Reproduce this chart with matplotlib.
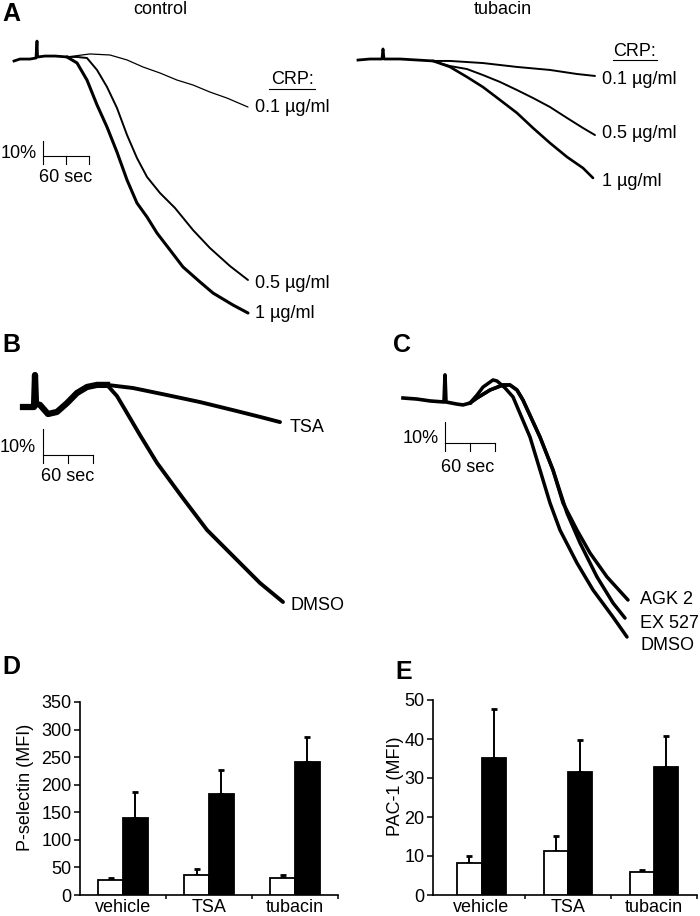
import numpy as np
import matplotlib.pyplot as plt
from matplotlib.lines import Line2D

plt.rcParams['font.family'] = ['Liberation Sans', 'DejaVu Sans']

W, H = 700, 916

#---------------- panel A, control: time (s) vs aggregation (%) ----------------
ctrl_base_t = [0, 7.8, 20.9, 28.7, 30.0, 30.7, 31.3, 40.4, 53.5, 69.1]
ctrl_base_y = [2.0, 0.7, 0.7, 0.0, -11.3, -0.7, -0.7, -1.3, -1.3, -0.7]
ctrl_1_t = [82.2, 95.2, 108.3, 121.3, 134.3, 147.4, 160.4, 173.5, 186.5, 203.5, 220.4, 242.6, 259.6, 285.7, 305.2]
ctrl_1_y = [3.3, 14.7, 31.3, 46.0, 62.7, 81.3, 96.7, 106.0, 116.7, 128.0, 139.3, 149.3, 156.7, 164.7, 170.0]
ctrl_05_t = [82.2, 95.2, 108.3, 121.3, 134.3, 147.4, 160.4, 173.5, 190.4, 210.0, 233.5, 255.6, 281.7, 305.2]
ctrl_05_y = [-0.7, 0.0, 8.0, 19.3, 33.3, 51.3, 66.7, 79.3, 90.0, 100.0, 114.7, 126.7, 138.7, 148.0]
ctrl_01_t = [99.1, 125.2, 147.4, 168.3, 190.4, 212.6, 233.5, 255.6, 277.8, 305.2]
ctrl_01_y = [-2.7, -2.0, 1.3, 6.0, 10.0, 14.7, 18.0, 22.7, 26.7, 32.7]

#---------------- panel A, tubacin ----------------
tuba_base_t = [0, 15.7, 31.3, 32.6, 33.9, 54.8, 97.8]
tuba_base_y = [0.7, 0.0, 0.0, -6.7, 0.0, 0.0, 1.3]
tuba_01_t = [120.0, 163.0, 207.4, 250.4, 285.6, 309.1]
tuba_01_y = [1.3, 2.7, 5.3, 7.3, 10.0, 11.3]
tuba_05_t = [120.0, 142.2, 163.0, 185.2, 207.4, 228.3, 250.4, 272.6, 293.5, 309.1]
tuba_05_y = [4.7, 6.7, 10.7, 15.3, 20.7, 26.0, 32.0, 39.3, 46.0, 50.7]
tuba_1_t = [120.0, 142.2, 163.0, 185.2, 207.4, 228.3, 250.4, 272.6, 293.5, 306.5]
tuba_1_y = [5.3, 12.0, 18.7, 27.3, 36.0, 46.0, 56.0, 65.3, 72.7, 79.3]

#---------------- panel B ----------------
b_base_t = [0, 8.4, 13.2, 14.4, 15.6, 20.4, 30.0, 40.8, 52.8, 64.8, 76.8, 88.8, 100.8]
b_base_y = [0, 0, 0, -12.3, -1.2, -0.8, 2.7, 1.9, -1.5, -5.4, -7.7, -8.5, -8.5]
b_tsa_t = [132.0, 172.8, 212.4, 252.0, 284.4, 308.4]
b_tsa_y = [-7.3, -4.6, -1.9, 1.2, 3.8, 5.8]
b_dmso_t = [112.8, 124.8, 140.4, 160.8, 190.8, 220.8, 260.4, 284.4, 312.0]
b_dmso_y = [-4.2, 2.3, 10.8, 21.5, 34.6, 47.3, 60.0, 67.7, 75.0]

#---------------- panel C ----------------
c_base_t = [0, 16.8, 32.4, 49.2, 50.4, 51.6, 64.8, 72.0, 80.4]
c_base_y = [0, 0.5, 1.4, 1.9, -11.0, 1.9, 2.9, 3.3, 2.4]
c_dmso_t = [88.8, 96.0, 108.0, 112.8, 122.4, 132.0, 152.4, 164.4, 176.4, 188.4, 208.8, 228.0, 252.0, 268.8]
c_dmso_y = [-1.4, -5.2, -8.6, -8.1, -4.8, -0.5, 18.6, 34.3, 50.0, 62.9, 78.6, 91.4, 104.3, 113.8]
c_agk_t = [88.8, 104.4, 120.0, 128.4, 136.8, 144.0, 164.4, 180.0, 192.0, 208.8, 224.4, 244.8, 270.0]
c_agk_y = [0.0, -3.8, -6.2, -6.2, -3.8, 1.0, 18.6, 34.3, 50.0, 62.9, 73.8, 85.2, 96.2]
c_ex_t = [88.8, 104.4, 120.0, 128.4, 136.8, 144.0, 164.4, 180.0, 196.8, 212.4, 232.8, 252.0, 266.4]
c_ex_y = [0.0, -3.8, -6.2, -6.2, -3.8, 1.0, 18.6, 34.3, 54.8, 69.0, 85.2, 97.6, 104.8]

#---------------- panels D and E (MFI) ----------------
groups = ["vehicle", "TSA", "tubacin"]
psel_rest = [27, 37, 30]
psel_rest_err = [4, 11, 6]
psel_crp = [140, 183, 241]
psel_crp_err = [47, 44, 46]
pac_rest = [8.1, 11.3, 6.0]
pac_rest_err = [1.9, 3.8, 0.3]
pac_crp = [35.2, 31.6, 32.7]
pac_crp_err = [12.5, 8.1, 8.1]


def fx(x):
    return x / W


def fy(y):
    return 1 - y / H


def label(fig, x, y, s, size=13, **kw):
    fig.text(fx(x), fy(y), s, fontsize=size, va='center', **kw)


#---------- axes placed in pixels, with a given px per second / per % ----------
def trace_axes(fig, box, origin, sx, sy):
    l, t, r, b = box
    ax = fig.add_axes([l / W, 1 - b / H, (r - l) / W, (b - t) / H])
    ax.set_xlim((l - origin[0]) / sx, (r - origin[0]) / sx)
    ax.set_ylim((b - origin[1]) / sy, (t - origin[1]) / sy)
    ax.axis('off')
    return ax


def trace(ax, base_t, base_y, t, y, lw):
    ax.plot([base_t[-1]] + t, [base_y[-1]] + y, color='k', lw=lw,
            solid_capstyle='round', solid_joinstyle='round')


def scale_bar(ax, t0, y0, tick):
    kw = dict(color='k', lw=0.8)
    ax.plot([t0, t0 + 60], [y0, y0], **kw)
    ax.plot([t0, t0], [y0 - 10, y0 + tick], **kw)
    for dt in (30, 60):
        ax.plot([t0 + dt, t0 + dt], [y0, y0 + tick], **kw)


def bar_panel(ax, rest, rest_err, crp, crp_err, ymax, step, xlim, w):
    x = np.arange(len(groups))
    ax.bar(x - w / 2, rest, w, color='white', edgecolor='k', lw=1.3, zorder=3)
    ax.bar(x + w / 2, crp, w, color='k', edgecolor='k', lw=1.3, zorder=3)
    for xs, v, e in ((x - w / 2, rest, rest_err), (x + w / 2, crp, crp_err)):
        ax.errorbar(xs, v, yerr=[np.zeros(len(v)), e], fmt='none', ecolor='k',
                    elinewidth=1.4, capsize=2, capthick=2, zorder=2)
    ax.set_xlim(*xlim)
    ax.set_ylim(0, ymax)
    ax.set_yticks(np.arange(0, ymax + 1, step))
    ax.set_xticks(x, groups)
    ax.set_xticks([0.5, 1.5, 2.5], minor=True)
    ax.tick_params(axis='y', length=4, width=1.1, labelsize=13, pad=2)
    ax.tick_params(axis='x', which='major', length=0, labelsize=13, pad=3)
    ax.tick_params(axis='x', which='minor', length=3, width=1.1)
    for s in ('top', 'right'):
        ax.spines[s].set_visible(False)
    for s in ('left', 'bottom'):
        ax.spines[s].set_linewidth(1.2)


def main():
    fig = plt.figure(figsize=(W / 100, H / 100), dpi=100)

    # ---- A control
    ax = trace_axes(fig, (0, 25, 345, 330), (14, 58), 46 / 60, 1.5)
    ax.plot(ctrl_base_t, ctrl_base_y, color='k', lw=2.0)
    trace(ax, ctrl_base_t, ctrl_base_y, ctrl_01_t, ctrl_01_y, 0.9)
    trace(ax, ctrl_base_t, ctrl_base_y, ctrl_05_t, ctrl_05_y, 1.4)
    trace(ax, ctrl_base_t, ctrl_base_y, ctrl_1_t, ctrl_1_y, 2.2)
    scale_bar(ax, 37.8, 65.3, 5.3)

    # ---- A tubacin
    ax = trace_axes(fig, (350, 25, 700, 330), (358, 59), 46 / 60, 1.5)
    ax.plot(tuba_base_t, tuba_base_y, color='k', lw=2.0)
    trace(ax, tuba_base_t, tuba_base_y, tuba_01_t, tuba_01_y, 1.4)
    trace(ax, tuba_base_t, tuba_base_y, tuba_05_t, tuba_05_y, 1.4)
    trace(ax, tuba_base_t, tuba_base_y, tuba_1_t, tuba_1_y, 1.9)

    # ---- B
    ax = trace_axes(fig, (0, 355, 345, 630), (23, 407), 50 / 60, 2.6)
    ax.plot(b_base_t, b_base_y, color='k', lw=4.5, solid_joinstyle='round')
    trace(ax, b_base_t, b_base_y, b_tsa_t, b_tsa_y, 2.8)
    trace(ax, b_base_t, b_base_y, b_dmso_t, b_dmso_y, 2.8)
    scale_bar(ax, 24.0, 18.5, 3.1)

    # ---- C
    ax = trace_axes(fig, (350, 355, 700, 660), (403, 398), 50 / 60, 2.1)
    ax.plot(c_base_t, c_base_y, color='k', lw=2.6, solid_joinstyle='round')
    trace(ax, c_base_t, c_base_y, c_dmso_t, c_dmso_y, 2.5)
    trace(ax, c_base_t, c_base_y, c_ex_t, c_ex_y, 2.5)
    trace(ax, c_base_t, c_base_y, c_agk_t, c_agk_y, 2.5)
    scale_bar(ax, 50.4, 21.4, 3.8)

    # ---- D and E
    ax = fig.add_axes([fx(80), fy(895), 258 / W, 193 / H])
    bar_panel(ax, psel_rest, psel_rest_err, psel_crp, psel_crp_err, 350, 50, (-0.5, 2.5), 0.29)
    ax = fig.add_axes([fx(433), fy(895), 264 / W, 195 / H])
    bar_panel(ax, pac_rest, pac_rest_err, pac_crp, pac_crp_err, 50, 10, (-0.563, 2.483), 0.28)

    # ---- texts
    for x, y, s in ((2, 14, "A"), (2, 345, "B"), (393, 345, "C"), (2, 667, "D"), (395, 672, "E")):
        label(fig, x, y, s, size=18, weight='bold', ha='left')
    label(fig, 160, 9, "control", ha='center')
    label(fig, 503, 9, "tubacin", ha='center')
    label(fig, 292, 79, "CRP:", ha='center')
    label(fig, 635, 51, "CRP:", ha='center')
    fig.add_artist(Line2D([fx(269), fx(315)], [fy(89), fy(89)], color='k', lw=0.8))
    fig.add_artist(Line2D([fx(613), fx(657)], [fy(60), fy(60)], color='k', lw=0.8))
    for x, y, s in ((255, 108, "0.1 µg/ml"), (255, 283, "0.5 µg/ml"), (255, 313, "1 µg/ml"),
                    (602, 79, "0.1 µg/ml"), (602, 134, "0.5 µg/ml"), (602, 182, "1 µg/ml"),
                    (290, 427, "TSA"), (290, 606, "DMSO"),
                    (640, 600, "AGK 2"), (640, 623, "EX 527"), (640, 646, "DMSO")):
        label(fig, x, y, s, ha='left')
    for x, y in ((37, 154), (36, 448), (439, 438)):
        label(fig, x, y, "10%", ha='right')
    for x, y in ((66, 177), (68, 477), (468, 467)):
        label(fig, x, y, "60 sec", ha='center')
    label(fig, 25, 787, "P-selectin (MFI)", ha='center', rotation=90)
    label(fig, 396, 786, "PAC-1 (MFI)", ha='center', rotation=90)

    fig.savefig("out.png", dpi=100)


if __name__ == "__main__":
    main()
